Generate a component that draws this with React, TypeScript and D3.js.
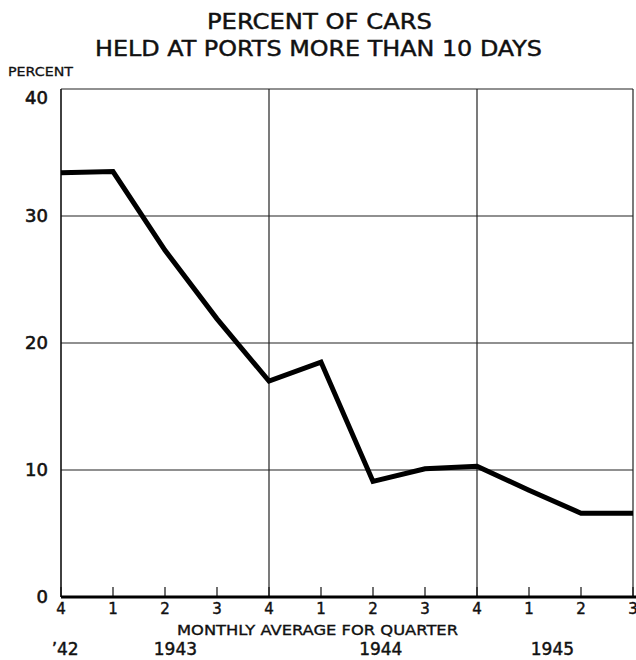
import React from "react";
import * as d3 from "d3";

const periods = ["1942Q4", "1943Q1", "1943Q2", "1943Q3", "1943Q4", "1944Q1", "1944Q2", "1944Q3", "1944Q4", "1945Q1", "1945Q2", "1945Q3"];
const quarterLabels = ["4", "1", "2", "3", "4", "1", "2", "3", "4", "1", "2", "3"];
const percentHeld = [33.4, 33.5, 27.3, 21.9, 17.0, 18.5, 9.1, 10.1, 10.3, 8.4, 6.6, 6.6];
const yTicks = [0, 10, 20, 30, 40];
const verticalGridPeriods = ["1943Q4", "1944Q4", "1945Q3"];
const yearLabels = ["\u201942", "1943", "1944", "1945"];
const yearLabelAt = [0.08, 2.2, 6.15, 9.45];

const W = 636;
const H = 660;
const FONT = "'DejaVu Sans', 'Liberation Sans', sans-serif";
const INK = "#111";

export default function App() {
  const x = d3.scalePoint<string>().domain(periods).range([61, 633]);
  const xi = d3.scaleLinear().domain([0, periods.length - 1]).range([61, 633]);
  const y = d3.scaleLinear().domain([0, 40]).range([597, 89]);

  const line = d3
    .line<number>()
    .x((_, i) => x(periods[i]) as number)
    .y((d) => y(d));

  const x0 = x(periods[0]) as number;
  const x1 = x(periods[periods.length - 1]) as number;
  const textStyle = { fill: INK, stroke: INK, strokeWidth: 0.45 };

  return (
    <svg
      width={W}
      height={H}
      style={{ position: "absolute", left: 0, top: 0, background: "#fff" }}
      fontFamily={FONT}
    >
      <rect x={0} y={0} width={W} height={H} fill="#fff" />
      {/* Title */}
      <text x={207} y={29} fontSize={21} textLength={225} lengthAdjust="spacingAndGlyphs" {...textStyle}>
        PERCENT OF CARS
      </text>
      <text x={95} y={56} fontSize={21} textLength={447} lengthAdjust="spacingAndGlyphs" {...textStyle}>
        HELD AT PORTS MORE THAN 10 DAYS
      </text>
      <text x={8} y={76} fontSize={13} textLength={65} lengthAdjust="spacingAndGlyphs" {...textStyle} strokeWidth={0.3}>
        PERCENT
      </text>

      {/* Horizontal gridlines */}
      {yTicks
        .filter((t) => t > 0)
        .map((t) => (
          <line key={"h" + t} x1={x0} x2={x1} y1={y(t)} y2={y(t)} stroke="#222" strokeWidth={1.2} />
        ))}
      {/* Vertical gridlines */}
      {verticalGridPeriods.map((p) => (
        <line key={"v" + p} x1={x(p)} x2={x(p)} y1={y(40)} y2={y(0)} stroke="#222" strokeWidth={1.2} />
      ))}
      {/* Left axis */}
      <line x1={x0} x2={x0} y1={y(40)} y2={y(0)} stroke="#111" strokeWidth={1.6} />
      {/* Quarter ticks */}
      {periods.map((p) => (
        <line key={"t" + p} x1={x(p)} x2={x(p)} y1={y(0)} y2={y(0) - 10} stroke="#111" strokeWidth={1.2} />
      ))}
      {/* Baseline */}
      <line x1={x0} x2={x1 + 3} y1={y(0)} y2={y(0)} stroke="#000" strokeWidth={3} />

      {/* Y tick labels */}
      {yTicks.map((t) => (
        <text
          key={"yl" + t}
          x={48}
          y={y(t) + (t === 40 ? 10 : 1)}
          fontSize={18}
          textAnchor="end"
          dominantBaseline="middle"
          {...textStyle}
          strokeWidth={0.6}
        >
          {t}
        </text>
      ))}

      {/* X tick labels */}
      {periods.map((p, i) => (
        <text key={"xl" + p} x={x(p)} y={614} fontSize={15} textAnchor="middle" {...textStyle}>
          {quarterLabels[i]}
        </text>
      ))}
      <text x={177} y={635} fontSize={14} textLength={281} lengthAdjust="spacingAndGlyphs" {...textStyle} strokeWidth={0.35}>
        MONTHLY AVERAGE FOR QUARTER
      </text>
      {yearLabels.map((lab, i) => (
        <text key={"yr" + lab} x={xi(yearLabelAt[i])} y={655} fontSize={17} textAnchor="middle" {...textStyle}>
          {lab}
        </text>
      ))}

      {/* Data line */}
      <path d={line(percentHeld) || ""} fill="none" stroke="#000" strokeWidth={5} strokeLinejoin="miter" />
    </svg>
  );
}
